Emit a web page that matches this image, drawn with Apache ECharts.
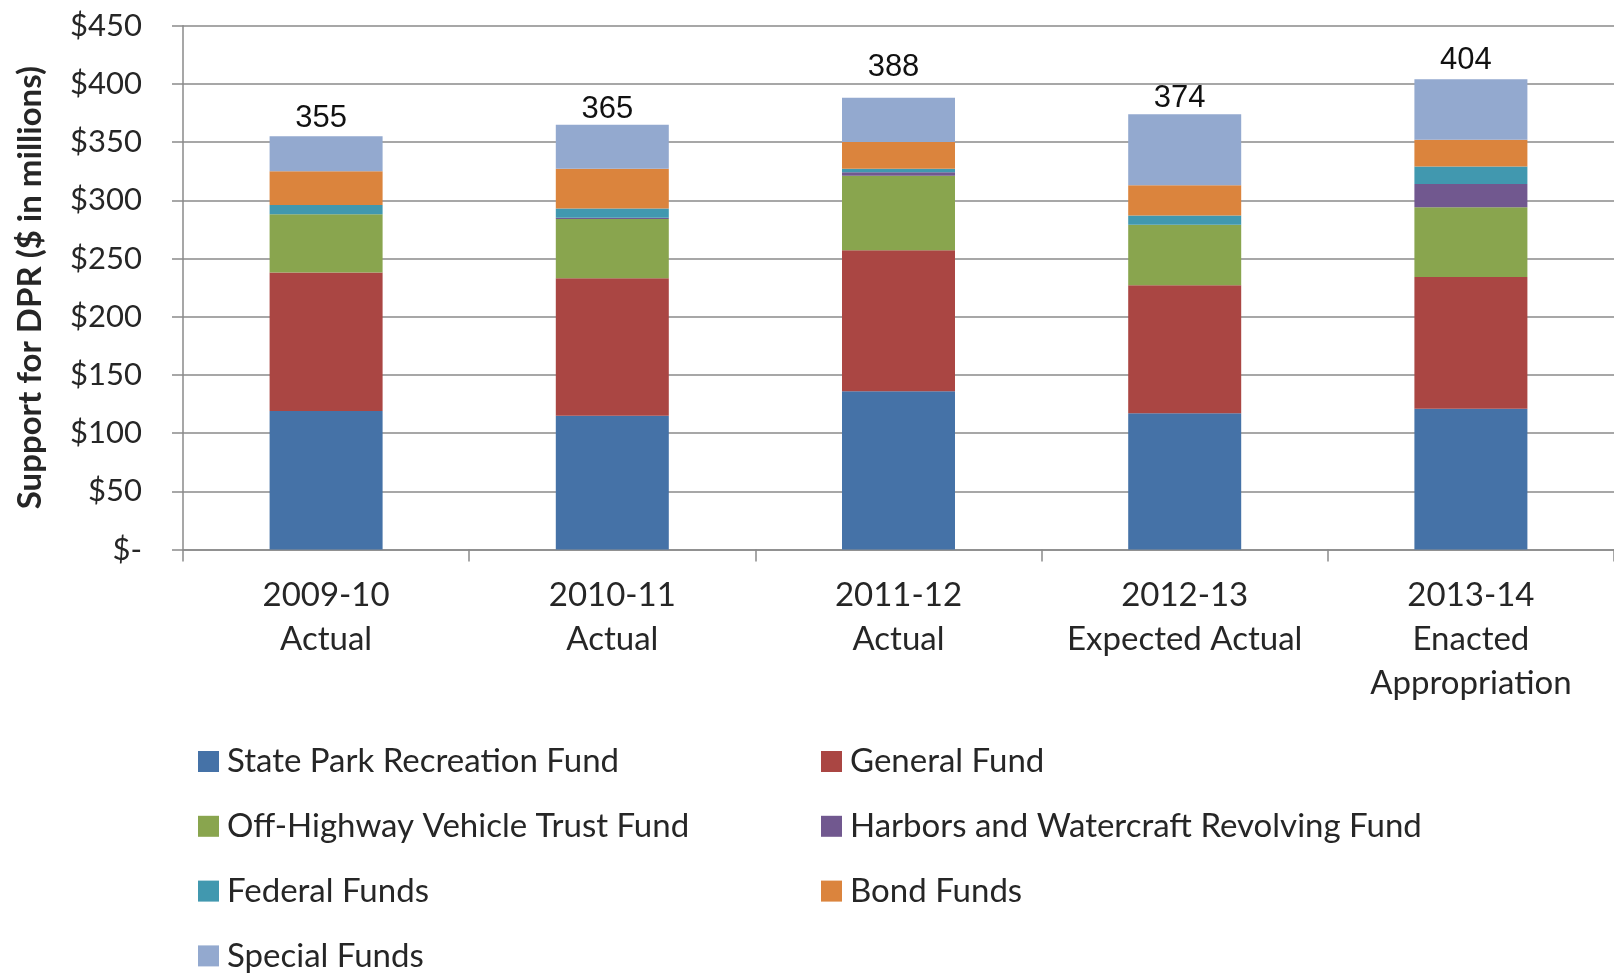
<!DOCTYPE html>
<html>
<head>
<meta charset="utf-8">
<title>Support for DPR</title>
<script src="https://cdn.jsdelivr.net/npm/echarts@6/dist/echarts.min.js"></script>
<style>
  html, body { margin: 0; padding: 0; background: #fff; }
  #chart { width: 1614px; height: 974px; }
</style>
</head>
<body>
<div id="chart"></div>
<script>
// Fiscal years shown along the bottom
const categories = [
  '2009-10\nActual',
  '2010-11\nActual',
  '2011-12\nActual',
  '2012-13\nExpected Actual',
  '2013-14\nEnacted\nAppropriation'
];

// Funding by source, $ in millions (stacked bottom to top)
const stateParkRecreationFund = [119, 115, 136, 117, 121];
const generalFund             = [119, 118, 121, 110, 113];
const offHighwayVehicleFund   = [50, 51, 64, 52, 60];
const harborsWatercraftFund   = [0, 1, 3, 0, 20];
const federalFunds            = [8, 8, 3, 8, 15];
const bondFunds               = [29, 34, 23, 26, 23];
const specialFunds            = [30, 38, 38, 61, 52];

// Value axis tick labels, $0 to $450 by $50
const yTickLabels = ['$-', '$50', '$100', '$150', '$200', '$250', '$300', '$350', '$400', '$450'];

// Extra lift of each total label above its bar (px)
const totalLabelLift = [2, 0, 15, 0, 3];

const seriesDefs = [
  { name: 'State Park Recreation Fund', data: stateParkRecreationFund, color: '#4572A7' },
  { name: 'General Fund', data: generalFund, color: '#AA4643' },
  { name: 'Off-Highway Vehicle Trust Fund', data: offHighwayVehicleFund, color: '#89A54E' },
  { name: 'Harbors and Watercraft Revolving Fund', data: harborsWatercraftFund, color: '#71588F' },
  { name: 'Federal Funds', data: federalFunds, color: '#4198AF' },
  { name: 'Bond Funds', data: bondFunds, color: '#DB843D' },
  { name: 'Special Funds', data: specialFunds, color: '#93A9CF' }
];

// Legend grid: two columns, four rows (column, row per series)
const legendCell = [[0, 0], [1, 0], [0, 1], [1, 1], [0, 2], [1, 2], [0, 3]];
const legendColumnX = [198, 821];
const legendRowTop = 745;
const legendRowStep = 64.8;

// Bar totals, written above each stack
const totals = categories.map((_, i) =>
  seriesDefs.reduce((sum, s) => sum + s.data[i], 0));

const textFont = 'Lato';
const textColor = '#262626';
const gridColor = '#8a8a8a';

const series = seriesDefs.map((s, idx) => {
  const isTop = idx === seriesDefs.length - 1;
  return {
    name: s.name,
    type: 'bar',
    stack: 'funds',
    barWidth: 113,
    itemStyle: { color: s.color },
    emphasis: { disabled: true },
    data: s.data.map((v, i) => isTop ? {
      value: v,
      label: {
        show: true,
        position: 'top',
        distance: totalLabelLift[i],
        offset: [-5, 0],
        formatter: () => String(totals[i]),
        fontFamily: 'Liberation Sans',
        fontSize: 31,
        color: '#111'
      }
    } : v)
  };
});

const legends = seriesDefs.map((s, idx) => ({
  left: legendColumnX[legendCell[idx][0]],
  top: legendRowTop + legendCell[idx][1] * legendRowStep,
  padding: 0,
  itemWidth: 21,
  itemHeight: 21,
  icon: 'rect',
  selectedMode: false,
  textStyle: { fontFamily: textFont, fontSize: 33, color: textColor, lineHeight: 33, padding: [0, 0, 0, 3] },
  data: [s.name]
}));

const option = {
  animation: false,
  backgroundColor: '#ffffff',
  grid: { left: 183, top: 25.7, right: -5, bottom: 424.5 },
  legend: legends,
  xAxis: {
    type: 'category',
    data: categories,
    axisLine: { lineStyle: { color: gridColor, width: 1.5 } },
    axisTick: { show: true, length: 12, lineStyle: { color: gridColor, width: 1.5 } },
    axisLabel: {
      margin: 24,
      fontFamily: textFont,
      fontSize: 33,
      lineHeight: 44,
      color: textColor,
      interval: 0
    }
  },
  yAxis: {
    type: 'value',
    min: 0,
    max: 450,
    interval: 50,
    name: 'Support for DPR ($ in millions)',
    nameLocation: 'middle',
    nameGap: 136,
    nameTextStyle: { fontFamily: textFont, fontSize: 33, fontWeight: 'bold', color: textColor },
    axisLine: { show: true, lineStyle: { color: gridColor, width: 1.5 } },
    axisTick: { show: true, length: 11, lineStyle: { color: gridColor, width: 1.5 } },
    splitLine: { lineStyle: { color: gridColor, width: 1.5 } },
    axisLabel: {
      margin: 41,
      fontFamily: textFont,
      fontSize: 31,
      color: textColor,
      formatter: (v) => yTickLabels[Math.round(v / 50)]
    }
  },
  series: series
};

const chart = echarts.init(document.getElementById('chart'), null, { renderer: 'canvas' });
chart.setOption(option);
</script>
</body>
</html>
